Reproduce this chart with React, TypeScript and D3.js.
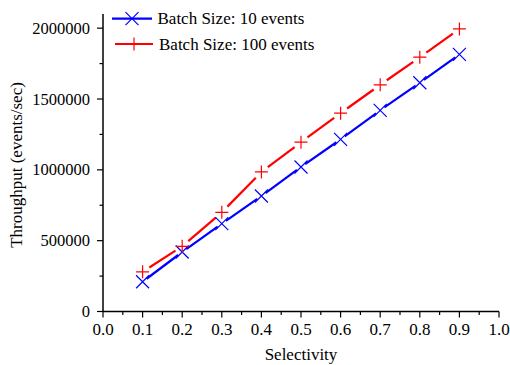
import React from 'react';
import * as d3 from 'd3';

const selectivity = [0.1, 0.2, 0.3, 0.4, 0.5, 0.6, 0.7, 0.8, 0.9];
const batch10 = [210000, 420000, 620000, 815000, 1020000, 1215000, 1420000, 1615000, 1815000];
const batch100 = [280000, 460000, 700000, 985000, 1195000, 1400000, 1600000, 1795000, 1995000];
const xTicks = [0, 0.1, 0.2, 0.3, 0.4, 0.5, 0.6, 0.7, 0.8, 0.9, 1.0];
const yTicks = [0, 500000, 1000000, 1500000, 2000000];

const W = 510;
const H = 365;
const FONT = '"Liberation Serif", "Times New Roman", serif';

const x = d3.scaleLinear().domain([0, 1]).range([103, 499]);
const y = d3.scaleLinear().domain([0, 2100000]).range([311.5, 14]);

// segments between markers, with a gap round each marker (like Origin draws them)
function gappedSegments(vals: number[], gap: number) {
  const segs: string[] = [];
  for (let i = 0; i < vals.length - 1; i++) {
    const x0 = x(selectivity[i]), y0 = y(vals[i]);
    const x1 = x(selectivity[i + 1]), y1 = y(vals[i + 1]);
    const len = Math.hypot(x1 - x0, y1 - y0);
    const ux = (x1 - x0) / len, uy = (y1 - y0) / len;
    segs.push(`M${x0 + ux * gap},${y0 + uy * gap}L${x1 - ux * gap},${y1 - uy * gap}`);
  }
  return segs;
}

const Cross = ({ cx, cy, color }: { cx: number; cy: number; color: string }) => (
  <path d={`M${cx - 6.5},${cy - 6.5}L${cx + 6.5},${cy + 6.5}M${cx - 6.5},${cy + 6.5}L${cx + 6.5},${cy - 6.5}`}
    stroke={color} strokeWidth={1.2} fill="none" />
);
const Plus = ({ cx, cy, color }: { cx: number; cy: number; color: string }) => (
  <path d={`M${cx - 6.5},${cy}L${cx + 6.5},${cy}M${cx},${cy - 6.5}L${cx},${cy + 6.5}`}
    stroke={color} strokeWidth={1.2} fill="none" />
);

export default function App() {
  const minorX = d3.range(0.05, 1, 0.1);
  const minorY = d3.range(250000, 2100000, 500000);
  return (
    <svg width={W} height={H} style={{ position: 'absolute', left: 0, top: 0, background: '#fff' }}
      fontFamily={FONT}>
      <rect width={W} height={H} fill="#fff" />
      {/* axes */}
      <line x1={x(0)} x2={x(1)} y1={y(0)} y2={y(0)} stroke="#000" strokeWidth={1.5} />
      <line x1={x(0)} x2={x(0)} y1={y(0)} y2={y(2100000)} stroke="#000" strokeWidth={1.5} />
      {xTicks.map(t => (
        <g key={'xt' + t}>
          <line x1={x(t)} x2={x(t)} y1={y(0)} y2={y(0) + 6} stroke="#000" strokeWidth={1.2} />
          <text x={x(t)} y={335} fontSize={17} textAnchor="middle">{t.toFixed(1)}</text>
        </g>
      ))}
      {minorX.map(t => (
        <line key={'xm' + t} x1={x(t)} x2={x(t)} y1={y(0)} y2={y(0) + 3.5} stroke="#000" strokeWidth={1.2} />
      ))}
      {yTicks.map(t => (
        <g key={'yt' + t}>
          <line x1={x(0) - 6} x2={x(0)} y1={y(t)} y2={y(t)} stroke="#000" strokeWidth={1.2} />
          <text x={90} y={y(t) + 5.5} fontSize={16.5} textAnchor="end">{t}</text>
        </g>
      ))}
      {minorY.map(t => (
        <line key={'ym' + t} x1={x(0) - 3.5} x2={x(0)} y1={y(t)} y2={y(t)} stroke="#000" strokeWidth={1.2} />
      ))}
      <text x={x(0.5)} y={360} fontSize={17} textAnchor="middle">Selectivity</text>
      <text transform={`translate(22,${165}) rotate(-90)`} fontSize={17} textAnchor="middle">
        Throughput (events/sec)
      </text>

      {/* series */}
      {gappedSegments(batch10, 5).map((d, i) => (
        <path key={'b' + i} d={d} stroke="#0000ff" strokeWidth={2.2} fill="none" />
      ))}
      {gappedSegments(batch100, 8).map((d, i) => (
        <path key={'r' + i} d={d} stroke="#ff0000" strokeWidth={2.2} fill="none" />
      ))}
      {batch10.map((v, i) => (
        <Cross key={'bc' + i} cx={x(selectivity[i])} cy={y(v)} color="#0000ff" />
      ))}
      {batch100.map((v, i) => (
        <Plus key={'rp' + i} cx={x(selectivity[i])} cy={y(v)} color="#ff0000" />
      ))}

      {/* legend */}
      <line x1={112} x2={152} y1={18.7} y2={18.7} stroke="#0000ff" strokeWidth={2.2} />
      <Cross cx={132} cy={18.7} color="#0000ff" />
      <text x={157.5} y={23.5} fontSize={17}>Batch Size: 10 events</text>
      <line x1={115} x2={153} y1={44} y2={44} stroke="#ff0000" strokeWidth={2.2} />
      <Plus cx={134} cy={44} color="#ff0000" />
      <text x={159} y={50} fontSize={17}>Batch Size: 100 events</text>
    </svg>
  );
}
